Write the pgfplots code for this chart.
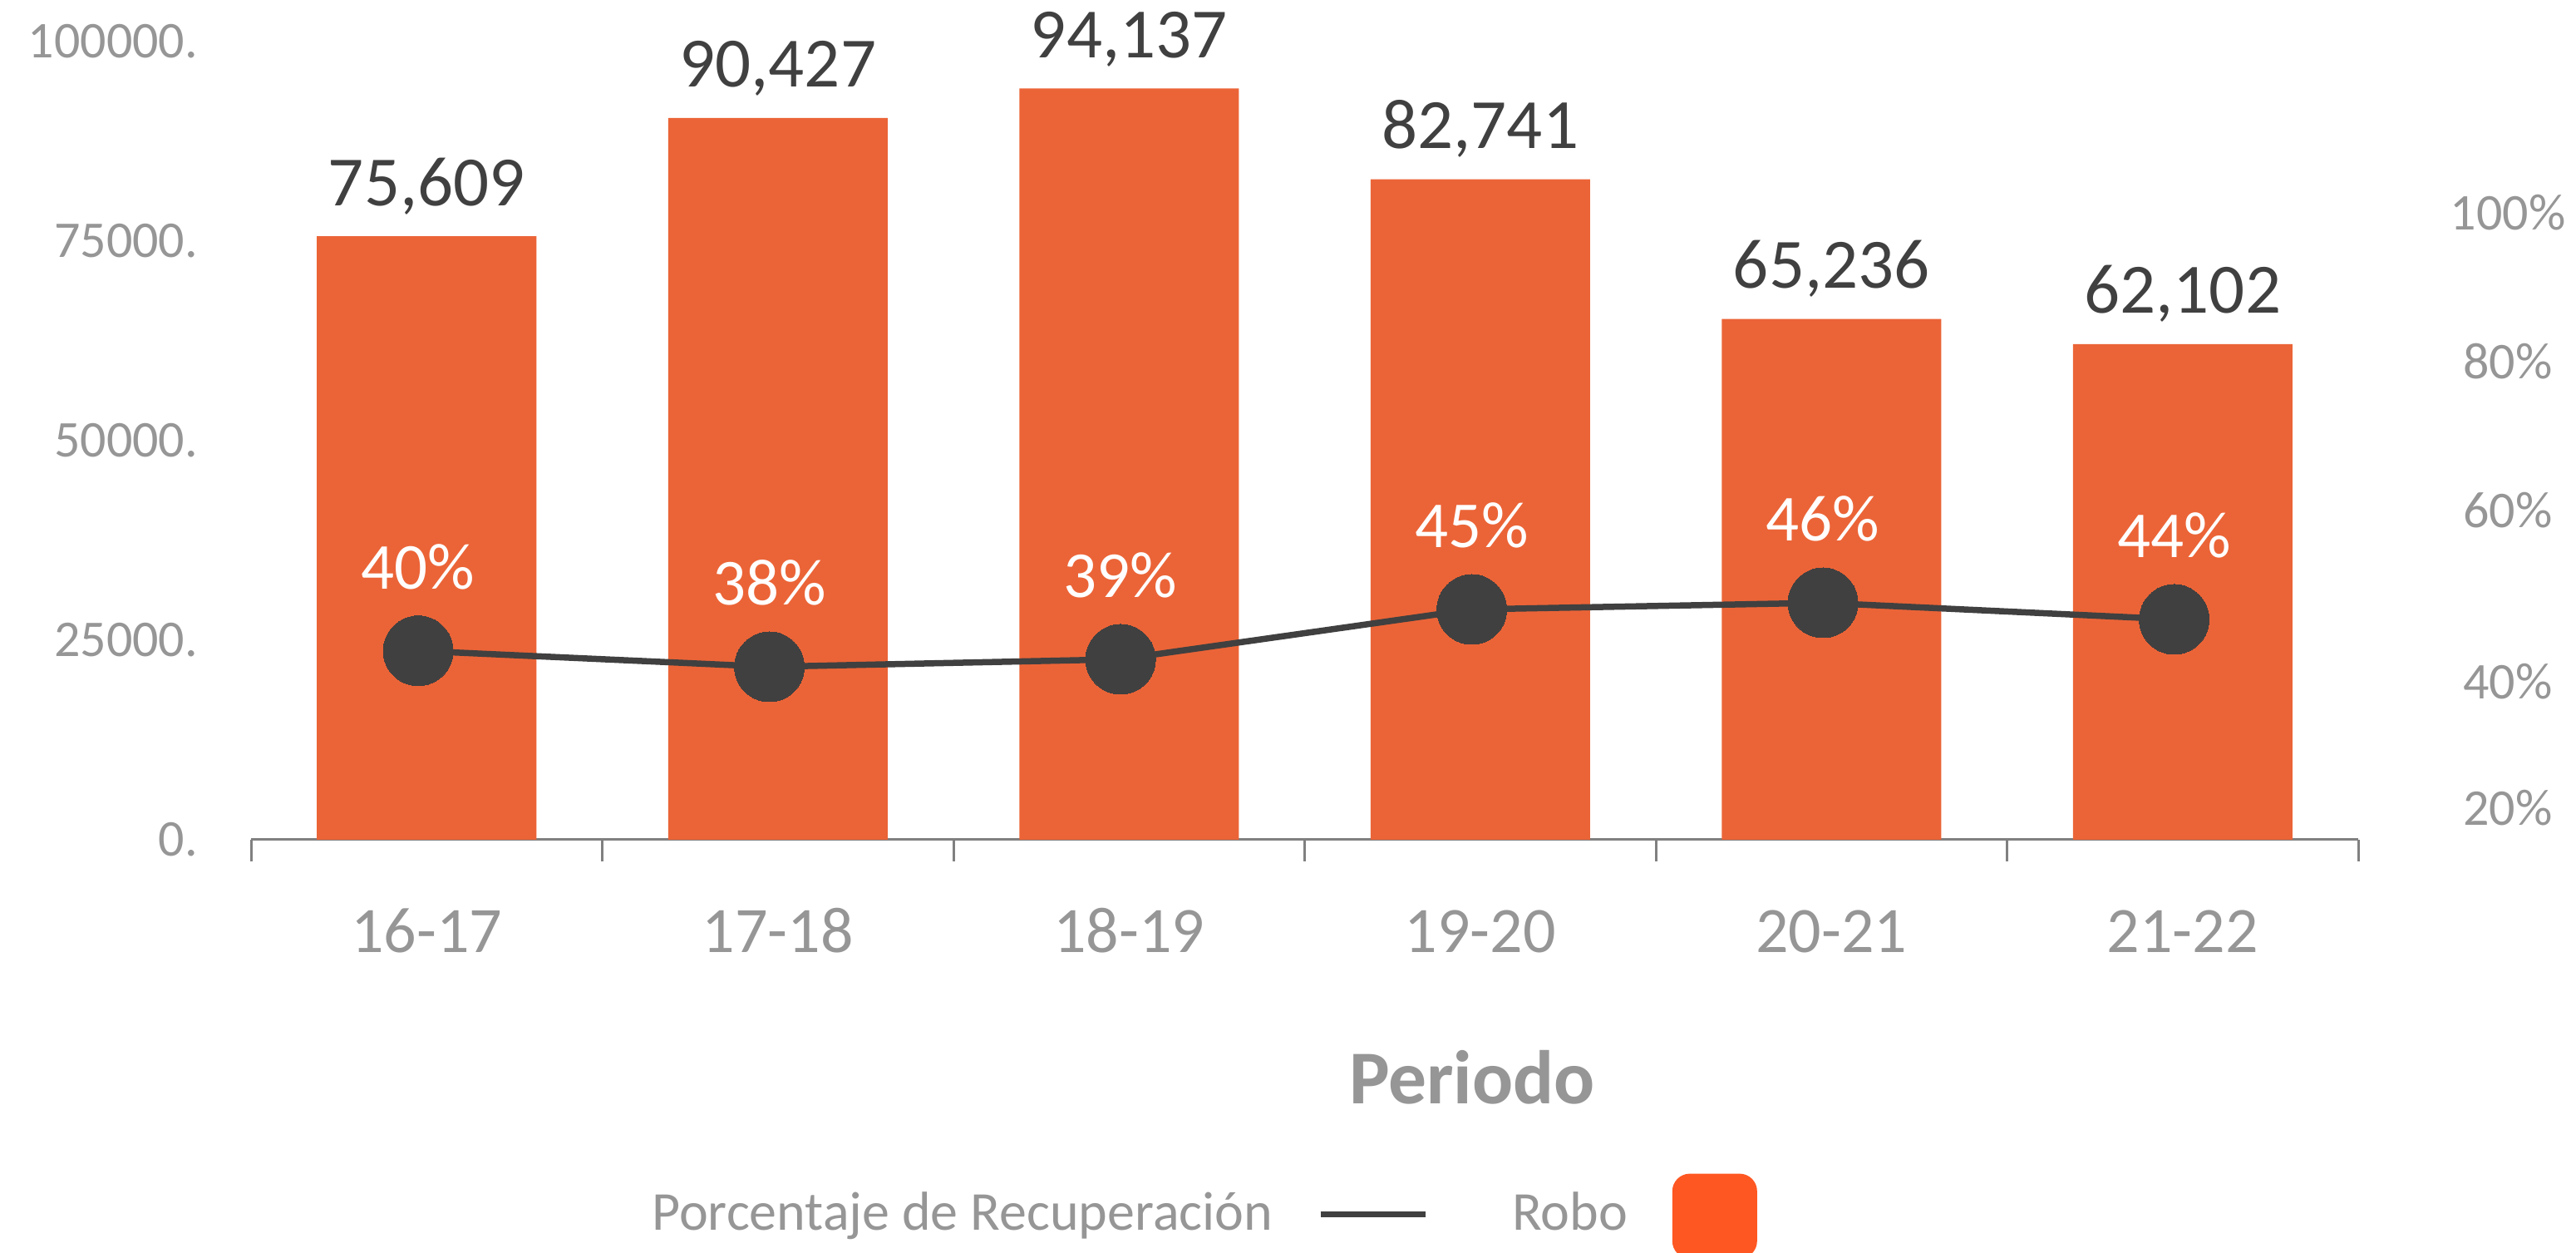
\documentclass[border=0pt]{standalone}
\usepackage{pgfplots}
\pgfplotsset{compat=1.18}
\usepackage{pgfplotstable}
\usepackage{fontspec}
\setmainfont{Carlito}
\definecolor{barorange}{RGB}{235,100,55}
\definecolor{legorange}{RGB}{255,87,34}
\definecolor{darkg}{RGB}{64,64,64}
\definecolor{tickg}{RGB}{150,150,150}
\definecolor{axisg}{RGB}{128,128,128}

\pgfplotstableread{
x robo lab
0 75609 75,609
1 90427 90,427
2 94137 94,137
3 82741 82,741
4 65236 65,236
5 62102 62,102
}\robodata
\pgfplotstableread{
x pct lab
-0.024 40.00 40\%
0.976 38.00 38\%
1.976 38.94 39\%
2.976 45.17 45\%
3.976 46.00 46\%
4.976 43.93 44\%
}\pctdata

\begin{document}
\begin{tikzpicture}
\begin{axis}[
  at={(0,0)}, anchor=south west,
  scale only axis, width=507pt, height=192pt,
  xmin=-0.5, xmax=5.5, ymin=0, ymax=100000,
  clip=false,
  scaled y ticks=false,
  axis x line*=bottom, axis y line*=left,
  x axis line style={-, draw=axisg, line width=0.6pt},
  y axis line style={draw=none},
  xtick={0,1,2,3,4,5},
  xticklabels={16-17,17-18,18-19,19-20,20-21,21-22},
  xtick style={draw=none},
  extra x ticks={-0.5,0.5,1.5,2.5,3.5,4.5,5.5},
  extra x tick labels={},
  extra x tick style={xtick style={draw=axisg, line width=0.6pt}, tick align=outside, major tick length=5.2pt},
  ytick={0,25000,50000,75000,100000},
  yticklabels={0.,25000.,50000.,75000.,100000.},
  ytick style={draw=none},
  yticklabel style={anchor=east, inner sep=0pt, xshift=-12.6pt, font=\fontsize{12.4}{15}\selectfont, text=tickg},
  xticklabel style={anchor=base, inner sep=0pt, yshift=-27.2pt, font=\fontsize{15.6}{19}\selectfont, text=tickg},
  xlabel={Periodo},
  xlabel style={at={(axis description cs:0.5795,-0.298)}, anchor=center, font=\bfseries\fontsize{18.3}{22}\selectfont, text=tickg},
]
\addplot[ybar, bar width=52.8pt, fill=barorange, draw=none,
  nodes near coords, point meta=explicit symbolic,
  every node near coord/.append style={anchor=base, yshift=7.4pt, inner sep=0pt, font=\fontsize{17}{20}\selectfont, text=darkg}]
  table[x=x, y=robo, meta=lab]{\robodata};
\end{axis}
\begin{axis}[
  at={(0,0)}, anchor=south west,
  scale only axis, width=507pt, height=192pt,
  xmin=-0.5, xmax=5.5, ymin=16.387, ymax=116.14,
  clip=false,
  axis x line=none, axis y line*=right,
  y axis line style={draw=none},
  ytick={20.34,36.13,57.54,76.14,94.74},
  yticklabels={20\%,40\%,60\%,80\%,100\%},
  ytick style={draw=none},
  yticklabel style={anchor=center, inner sep=0pt, xshift=36pt, font=\fontsize{12.4}{15}\selectfont, text=tickg},
  legend plot pos=right,
  legend columns=-1,
  legend style={draw=none, fill=none, at={(0.4525,-0.4715)}, anchor=center,
    font=\fontsize{13.2}{16}\selectfont, nodes={text=tickg, inner sep=0pt},
    /tikz/every odd column/.style={column sep=10.8pt},
    /tikz/every even column/.style={column sep=20.2pt}},
]
\addplot[darkg, line width=1.5pt, mark=*, mark size=8.4pt,
  mark options={fill=darkg, draw=darkg, line width=0pt},
  nodes near coords, point meta=explicit symbolic,
  every node near coord/.append style={anchor=base, yshift=14.8pt, inner sep=0pt, font=\fontsize{15.8}{19}\selectfont, text=white},
  legend image code/.code={\draw[darkg, line width=1.4pt] (0pt,0pt) -- (25.2pt,0pt);}]
  table[x=x, y=pct, meta=lab]{\pctdata};
\addlegendentry{Porcentaje de Recuperación}
\addlegendimage{legend image code/.code={\fill[legorange, rounded corners=4pt] (0pt,-10.4pt) rectangle (20pt,9.6pt);}}
\addlegendentry{Robo}
\end{axis}
\pgfresetboundingbox
\useasboundingbox (-60.4pt,-99.4pt) rectangle (559.4pt,202pt);
\end{tikzpicture}
\end{document}
